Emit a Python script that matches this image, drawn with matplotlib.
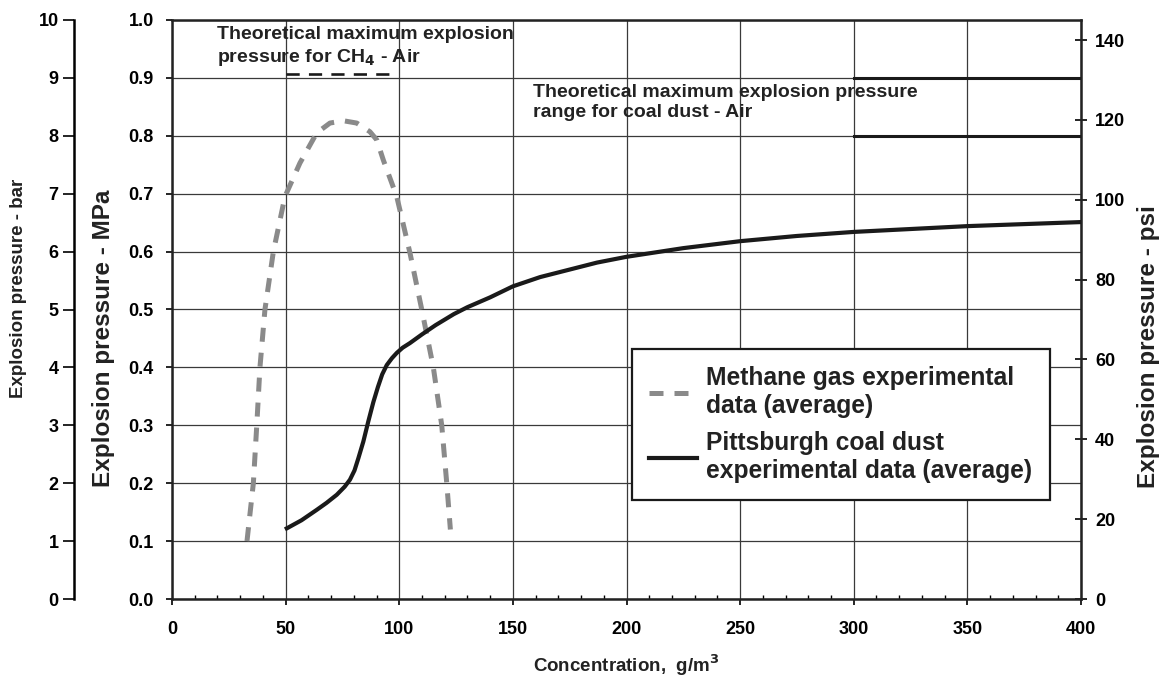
import matplotlib.pyplot as plt
from matplotlib.ticker import MultipleLocator
from matplotlib.lines import Line2D

plt.rcParams['font.family'] = ['Liberation Sans', 'DejaVu Sans']
plt.rcParams['font.weight'] = 'bold'

# methane gas, average
methane_conc = [33, 35.8, 37.3, 38.7, 40.9, 44.6, 49.7, 56.3, 63.7, 69.5, 75.4,
                81.3, 87.1, 90.1, 93, 98.9, 104.7, 109.9, 115, 118.7, 120.9, 122.5]
methane_mpa = [0.10, 0.20, 0.30, 0.40, 0.50, 0.60, 0.695, 0.753, 0.805, 0.822, 0.826,
               0.822, 0.807, 0.793, 0.758, 0.695, 0.598, 0.50, 0.40, 0.30, 0.20, 0.12]

# Pittsburgh coal dust, average
coal_conc = [50.5, 57, 63.7, 68, 72.5, 76, 78.3, 80.3, 82.0, 84.2, 86.4, 88.6, 90.6,
             92.5, 94.5, 96.8, 98.9, 101.5, 104.7, 110, 116, 124, 130, 140, 150, 162,
             175, 187, 200, 225, 250, 275, 300, 350, 400]
coal_mpa = [0.122, 0.136, 0.154, 0.166, 0.180, 0.194, 0.206, 0.222, 0.243, 0.272,
            0.307, 0.340, 0.366, 0.388, 0.404, 0.416, 0.425, 0.434, 0.442, 0.457,
            0.473, 0.492, 0.504, 0.521, 0.540, 0.556, 0.569, 0.581, 0.591, 0.606,
            0.618, 0.627, 0.634, 0.644, 0.651]

# theoretical maximum pressures
ch4_max_x = [50, 97]
ch4_max_y = [0.907, 0.907]
coal_range_x = [300, 400]
coal_range_hi = [0.9, 0.9]
coal_range_lo = [0.8, 0.8]

bar_ticks = list(range(0, 11))
psi_ticks = list(range(0, 141, 20))

fig = plt.figure(figsize=(11.61, 6.81), dpi=100)
ax = fig.add_axes([172/1161, 82/681, 909/1161, 579/681])

ax.set_xlim(0, 400)
ax.set_ylim(0, 1.0)
ax.xaxis.set_major_locator(MultipleLocator(50))
ax.xaxis.set_minor_locator(MultipleLocator(10))
ax.yaxis.set_major_locator(MultipleLocator(0.1))
ax.yaxis.set_major_formatter(plt.FuncFormatter(lambda v, p: f'{v:.1f}'))

ax.grid(which='major', color='#3a3a3a', lw=0.9)
ax.set_axisbelow(True)
for s in ax.spines.values():
    s.set_linewidth(1.8)
    s.set_color('#222222')

ax.tick_params(axis='x', which='major', direction='out', length=4, width=1.2,
               labelsize=13, pad=12)
ax.tick_params(axis='x', which='minor', direction='in', length=3, width=1.0)
ax.tick_params(axis='y', which='major', direction='out', length=4, width=1.2,
               labelsize=13, pad=9)

ax.plot(methane_conc, methane_mpa, color='#8a8a8a', lw=3.6, dashes=(2.8, 2.2),
        solid_capstyle='butt', zorder=3)
ax.plot(coal_conc, coal_mpa, color='#1a1a1a', lw=3.0, zorder=4)
ax.plot(ch4_max_x, ch4_max_y, color='#1a1a1a', lw=1.9, dashes=(5, 3.5), zorder=4)
ax.plot(coal_range_x, coal_range_hi, color='#1a1a1a', lw=2.2, zorder=4)
ax.plot(coal_range_x, coal_range_lo, color='#1a1a1a', lw=2.2, zorder=4)

ax.text(20, 0.99, 'Theoretical maximum explosion\npressure for CH$_4$ - Air',
        fontsize=14, fontweight='bold', va='top', ha='left', color='#222222',
        linespacing=1.25)
ax.text(159, 0.89, 'Theoretical maximum explosion pressure\nrange for coal dust - Air',
        fontsize=14, fontweight='bold', va='top', ha='left', color='#222222',
        linespacing=1.25)

# bar scale on a detached left axis
ax_bar = ax.secondary_yaxis(-98/909, functions=(lambda y: y*10, lambda y: y/10))
ax_bar.set_yticks(bar_ticks)
ax_bar.spines['left'].set_linewidth(1.8)
ax_bar.tick_params(direction='out', length=8, width=1.2, labelsize=13, pad=3)

# psi scale on the right
ax_psi = ax.secondary_yaxis('right', functions=(lambda y: y*145.038, lambda y: y/145.038))
ax_psi.set_yticks(psi_ticks)
ax_psi.tick_params(direction='inout', length=8, width=1.2, labelsize=13, pad=6)

fig.text(19/1161, 1 - 288/681, 'Explosion pressure - bar', rotation=90,
         fontsize=13.5, fontweight='bold', ha='center', va='center', color='#222222')
fig.text(104/1161, 1 - 338/681, 'Explosion pressure - MPa', rotation=90,
         fontsize=17.5, fontweight='bold', ha='center', va='center', color='#222222')
fig.text(1148/1161, 1 - 347/681, 'Explosion pressure - psi', rotation=90,
         fontsize=17.5, fontweight='bold', ha='center', va='center', color='#222222')
ax.set_xlabel('Concentration,  g/m$^3$', fontsize=13.5, fontweight='bold',
              color='#222222', labelpad=10)

handles = [Line2D([], [], color='#8a8a8a', lw=3.6, dashes=(2.8, 2.2)),
           Line2D([], [], color='#1a1a1a', lw=3.0)]
labels = ['Methane gas experimental\ndata (average)',
          'Pittsburgh coal dust\nexperimental data (average)']
leg = ax.legend(handles, labels, loc='upper left', bbox_to_anchor=(0.506, 0.432),
                borderaxespad=0, fontsize=17.7, fancybox=False, framealpha=1,
                edgecolor='#1a1a1a', handlelength=1.95, handletextpad=0.37,
                borderpad=0.7, labelspacing=0.55)
leg.get_frame().set_linewidth(1.6)
for t in leg.get_texts():
    t.set_color('#222222')

fig.savefig('out.png', dpi=100)
